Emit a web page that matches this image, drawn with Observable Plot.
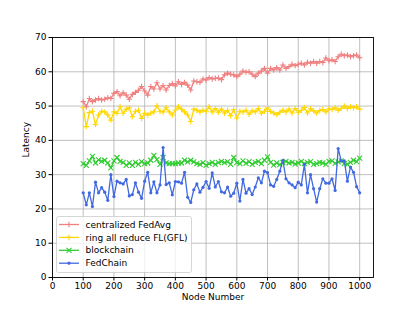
<!DOCTYPE html>
<html><head><meta charset="utf-8">
<script src="https://cdn.jsdelivr.net/npm/d3@7"></script>
<script src="https://cdn.jsdelivr.net/npm/@observablehq/plot@0.6"></script>
<style>body{margin:0;background:#fff;font-family:"DejaVu Sans",sans-serif}</style>
</head><body><div id="chart" style="position:relative;width:415px;height:311px"></div>
<script>
const nodes = [100,110,120,130,140,150,160,170,180,190,200,210,220,230,240,250,260,270,280,290,300,310,320,330,340,350,360,370,380,390,400,410,420,430,440,450,460,470,480,490,500,510,520,530,540,550,560,570,580,590,600,610,620,630,640,650,660,670,680,690,700,710,720,730,740,750,760,770,780,790,800,810,820,830,840,850,860,870,880,890,900,910,920,930,940,950,960,970,980,990,1000];
const centralized = [51.3,49.8,52.2,51.3,51.8,52.2,51.8,52.0,52.4,52.2,53.7,54.2,53.0,53.9,53.2,52.0,53.4,54.0,54.6,55.7,54.4,53.2,55.7,55.0,56.8,55.0,56.0,54.7,56.0,56.6,55.9,57.1,56.3,56.9,56.1,54.7,57.3,57.1,56.9,57.9,57.6,58.3,57.9,58.1,58.2,57.7,59.1,59.6,59.3,59.1,58.6,59.3,60.2,59.9,60.0,59.3,58.6,59.6,60.2,61.0,59.6,61.0,60.5,61.2,60.5,62.0,61.0,61.5,62.2,61.8,62.2,62.5,62.0,62.8,62.5,63.0,62.5,63.0,62.7,64.0,63.2,63.5,63.0,64.4,65.1,64.7,64.9,64.4,64.7,64.9,64.1];
const ring = [49.5,44.0,48.1,48.5,44.6,47.4,48.5,48.3,47.4,45.9,48.3,47.9,49.8,47.9,49.1,49.5,46.9,48.5,48.8,46.4,47.9,47.4,47.9,48.3,50.1,48.5,48.3,49.5,48.3,47.4,48.8,49.8,49.1,48.3,47.4,45.5,49.1,48.8,48.3,48.8,48.5,49.8,48.3,49.3,48.2,49.1,48.0,48.8,47.2,49.0,46.5,48.5,48.3,48.8,47.6,48.6,48.3,49.3,47.9,48.5,49.5,48.4,48.0,47.5,48.2,48.8,48.3,49.1,48.0,49.3,48.2,48.8,49.6,48.0,49.2,48.6,48.0,48.7,49.0,48.3,49.2,49.0,49.5,48.8,49.3,50.0,49.3,49.8,49.5,49.8,49.1];
const blockchain = [33.2,32.7,34.0,35.3,33.4,34.3,33.9,34.2,33.4,32.0,34.0,35.0,33.9,33.6,32.7,33.4,32.7,33.6,33.0,33.8,33.2,33.4,34.2,35.6,34.4,33.0,35.0,33.4,33.2,33.2,33.2,33.4,33.4,34.2,33.7,34.2,33.7,33.2,33.0,33.5,32.7,33.2,33.6,33.0,33.5,33.9,33.5,33.8,33.0,35.0,33.5,33.2,34.0,33.3,33.8,33.0,33.6,33.9,33.2,34.2,35.2,33.6,32.8,33.4,32.9,33.6,33.9,33.4,33.6,33.1,33.4,33.9,33.2,33.6,33.8,33.0,33.2,33.6,33.4,33.0,33.9,34.0,33.3,33.7,34.0,33.2,33.0,33.6,34.2,33.8,34.8];
const fedchain = [24.7,21.2,24.7,20.7,27.8,24.7,26.2,24.9,22.5,30.0,23.6,28.1,27.6,27.3,28.6,23.8,24.2,27.6,24.9,23.1,28.1,30.7,24.7,27.9,24.7,27.0,37.9,27.1,27.6,24.1,28.0,27.9,27.5,30.7,23.4,21.9,25.6,27.3,24.9,26.3,28.0,26.0,30.5,26.4,28.0,25.0,24.7,26.4,23.7,24.6,27.5,22.3,28.6,24.6,25.9,24.2,26.4,29.1,27.6,31.0,30.6,27.0,26.6,28.6,31.0,34.2,28.8,27.6,27.0,26.2,27.8,27.0,33.0,24.7,30.0,25.9,22.0,25.9,28.8,27.5,27.5,28.8,25.4,37.6,34.0,34.0,28.1,32.2,30.7,26.5,24.7];
const xTicks = [0,100,200,300,400,500,600,700,800,900,1000];
const yTicks = [0,10,20,30,40,50,60,70];

const series = [
  {name: "centralized FedAvg", values: centralized, color: "#f08080", symbol: "plus", r: 1.9, sw: 1.1},
  {name: "ring all reduce FL(GFL)", values: ring, color: "#ffd700", symbol: "plus", r: 1.9, sw: 1.1},
  {name: "blockchain", values: blockchain, color: "#32cd32", symbol: "times", r: 2.4, sw: 1.1},
  {name: "FedChain", values: fedchain, color: "#4169e1", symbol: "circle", r: 1.6, sw: 0}
];

const marks = [
  Plot.gridX(xTicks, {stroke: "#b0b0b0", strokeOpacity: 1, strokeWidth: 0.8}),
  Plot.gridY(yTicks, {stroke: "#b0b0b0", strokeOpacity: 1, strokeWidth: 0.8})
];
for (const s of series) {
  const data = nodes.map((n, i) => ({x: n, y: s.values[i]}));
  marks.push(Plot.line(data, {x: "x", y: "y", stroke: s.color, strokeWidth: 1.3}));
  if (s.symbol === "circle") {
    marks.push(Plot.dot(data, {x: "x", y: "y", r: s.r, fill: s.color, stroke: "none"}));
  } else {
    marks.push(Plot.dot(data, {x: "x", y: "y", r: s.r, symbol: s.symbol, stroke: s.color, strokeWidth: s.sw, fill: "none"}));
  }
}
marks.push(Plot.frame({stroke: "#000", strokeWidth: 0.9}));
marks.push(Plot.axisX(xTicks, {tickSize: 3.5, tickPadding: 2, fontSize: 9, label: null, color: "#000", tickFormat: d => String(d)}));
marks.push(Plot.axisY(yTicks, {tickSize: 3.5, tickPadding: 2.5, fontSize: 9, label: null, color: "#000", tickFormat: d => String(d)}));
marks.push(Plot.text(["Node Number"], {text: d => d, frameAnchor: "bottom", dy: 22, fontSize: 9, fill: "#000"}));
marks.push(Plot.text(["Latency"], {text: d => d, frameAnchor: "left", dx: -26, rotate: -90, fontSize: 9, fill: "#000"}));

const chart = Plot.plot({
  width: 415, height: 311,
  marginLeft: 52, marginRight: 42, marginTop: 37, marginBottom: 34,
  x: {domain: [0, 1045]},
  y: {domain: [0, 70]},
  style: {fontFamily: "DejaVu Sans, sans-serif", fontSize: "9px", background: "#fff", color: "#000"},
  marks
});
const host = document.getElementById("chart");
host.appendChild(chart);

// legend overlay
const lg = d3.select(host).append("svg")
  .attr("width", 136).attr("height", 57)
  .style("position", "absolute").style("left", "56px").style("top", "215.5px");
lg.append("rect").attr("x", 0.5).attr("y", 0.5).attr("width", 135).attr("height", 56).attr("rx", 2)
  .attr("fill", "rgba(255,255,255,0.8)").attr("stroke", "#cccccc").attr("stroke-width", 0.8);
series.forEach((s, i) => {
  const cy = 8.5 + i * 12.9;
  const g = lg.append("g");
  g.append("line").attr("x1", 3).attr("x2", 23).attr("y1", cy).attr("y2", cy).attr("stroke", s.color).attr("stroke-width", 1.3);
  const sym = s.symbol === "plus" ? d3.symbolPlus : s.symbol === "times" ? d3.symbolTimes : d3.symbolCircle;
  const p = g.append("path").attr("transform", `translate(13,${cy})`).attr("d", d3.symbol(sym, s.r * s.r * Math.PI)());
  if (s.symbol === "circle") p.attr("fill", s.color); else p.attr("fill", "none").attr("stroke", s.color).attr("stroke-width", s.sw);
  g.append("text").attr("x", 29.5).attr("y", cy).attr("dy", "0.35em").attr("font-size", 9).attr("font-family", "DejaVu Sans, sans-serif").attr("fill", "#000").text(s.name);
});
</script></body></html>
